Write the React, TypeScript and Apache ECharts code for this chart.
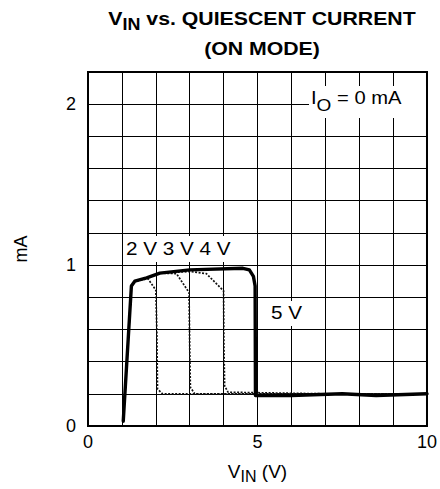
import React, { useEffect, useRef } from 'react';
import * as echarts from 'echarts';

const FONT = "'Liberation Sans', Arial, Helvetica, sans-serif";

const xTickLabels = [0, 5, 10];
const yTickLabels = [0, 1, 2];

// 5 V curve (thick)
const vin5V = [1.04, 1.28, 1.38, 1.73, 2.12, 3.0, 4.57, 4.76, 4.88, 4.93, 4.94, 6.0, 7.5, 8.5, 10.0];
const iq5V = [0.03, 0.87, 0.9, 0.92, 0.95, 0.97, 0.98, 0.97, 0.93, 0.87, 0.19, 0.19, 0.2, 0.19, 0.2];

// 2 V curve (dotted)
const vin2V = [1.04, 1.28, 1.38, 1.77, 2.0, 2.03, 2.05, 2.2, 4.0, 7.0, 10.0];
const iq2V = [0.03, 0.87, 0.9, 0.915, 0.845, 0.6, 0.23, 0.2, 0.2, 0.2, 0.2];

// 3 V curve (dotted)
const vin3V = [1.04, 1.28, 1.38, 1.73, 2.12, 2.61, 2.98, 3.0, 3.02, 3.15, 6.0, 10.0];
const iq3V = [0.03, 0.87, 0.9, 0.92, 0.95, 0.947, 0.83, 0.5, 0.24, 0.2, 0.2, 0.2];

// 4 V curve (dotted)
const vin4V = [1.04, 1.28, 1.38, 1.73, 2.12, 3.0, 3.49, 4.0, 4.01, 4.03, 4.13, 7.0, 10.0];
const iq4V = [0.03, 0.87, 0.9, 0.92, 0.95, 0.96, 0.947, 0.84, 0.5, 0.25, 0.21, 0.2, 0.2];

const pair = (xs: number[], ys: number[]) => xs.map((x, i) => [x, ys[i]]);

export default function App() {
  const ref = useRef<HTMLDivElement>(null);
  useEffect(() => {
    const chart = echarts.init(ref.current!, null, { renderer: 'svg' });
    const dotted = { color: '#111', width: 1.7, type: [2, 1.5] as any };
    const isTick = (v: number, list: number[]) => list.some((t) => Math.abs(t - v) < 1e-6);
    chart.setOption({
      animation: false,
      backgroundColor: '#fff',
      grid: {
        left: 88, top: 72, width: 340, height: 355,
        show: true, borderColor: '#000', borderWidth: 2, backgroundColor: 'transparent',
      },
      xAxis: {
        type: 'value', min: 0, max: 10, interval: 1,
        axisLine: { show: false }, axisTick: { show: false },
        splitLine: { show: true, lineStyle: { color: '#000', width: 1 } },
        axisLabel: {
          formatter: (v: number) => (isTick(v, xTickLabels) ? String(Math.round(v)) : ''),
          color: '#000', fontSize: 18, fontFamily: FONT, margin: 7,
        },
        name: '{v|V}{s|IN}{v| (V)}',
        nameLocation: 'middle', nameGap: 34,
        nameTextStyle: {
          rich: {
            v: { fontSize: 19, fontFamily: FONT, color: '#000', lineHeight: 22 },
            s: { fontSize: 16, fontFamily: FONT, color: '#000', lineHeight: 10, verticalAlign: 'top', padding: [8, 0, 0, 0] },
          },
        },
      },
      yAxis: {
        type: 'value', min: 0, max: 2.2, interval: 0.2,
        axisLine: { show: false }, axisTick: { show: false },
        splitLine: { show: true, lineStyle: { color: '#000', width: 1 } },
        axisLabel: {
          formatter: (v: number) => (isTick(v, yTickLabels) ? String(Math.round(v)) : ''),
          color: '#000', fontSize: 18, fontFamily: FONT, margin: 12,
        },
        name: 'mA', nameLocation: 'middle', nameGap: 58, nameRotate: 90,
        nameTextStyle: { fontSize: 18, fontFamily: FONT, color: '#000' },
      },
      series: [
        { name: '2 V', type: 'line', data: pair(vin2V, iq2V), symbol: 'none', lineStyle: dotted, z: 3 },
        { name: '3 V', type: 'line', data: pair(vin3V, iq3V), symbol: 'none', lineStyle: dotted, z: 3 },
        { name: '4 V', type: 'line', data: pair(vin4V, iq4V), symbol: 'none', lineStyle: dotted, z: 3 },
        {
          name: '5 V', type: 'line', data: pair(vin5V, iq5V), symbol: 'none', z: 5,
          lineStyle: { color: '#000', width: 3.4, cap: 'round', join: 'round' },
        },
      ],
      graphic: [
        {
          type: 'text', x: 262, y: 3, scaleX: 1.12, z: 101,
          style: {
            text: '{v|V}{s|IN}{v| vs. QUIESCENT CURRENT}\n{v|(ON MODE)}',
            align: 'center', verticalAlign: 'top', fill: '#000',
            rich: {
              v: { fontSize: 19, fontWeight: 'bold', fontFamily: FONT, lineHeight: 30, fill: '#000' },
              s: { fontSize: 16, fontWeight: 'bold', fontFamily: FONT, lineHeight: 10, verticalAlign: 'top', padding: [14, 0, 0, 0], fill: '#000' },
            },
          },
        },
        { type: 'rect', shape: { x: 123, y: 236, width: 121, height: 26 }, style: { fill: '#fff' }, z: 100 },
        {
          type: 'text', x: 126, y: 249, scaleX: 1.15, z: 101,
          style: { text: '2 V 3 V 4 V', fontSize: 18, fontFamily: FONT, fill: '#000', verticalAlign: 'middle' },
        },
        { type: 'rect', shape: { x: 268, y: 301, width: 38, height: 25 }, style: { fill: '#fff' }, z: 100 },
        {
          type: 'text', x: 271, y: 313, scaleX: 1.15, z: 101,
          style: { text: '5 V', fontSize: 18, fontFamily: FONT, fill: '#000', verticalAlign: 'middle' },
        },
        { type: 'rect', shape: { x: 309, y: 86, width: 117, height: 32 }, style: { fill: '#fff' }, z: 100 },
        {
          type: 'text', x: 311, y: 86, scaleX: 1.12, z: 101,
          style: {
            text: '{n|I}{s|O}{n| = 0 mA}', verticalAlign: 'top', fill: '#000',
            rich: {
              n: { fontSize: 18, fontFamily: FONT, lineHeight: 24, fill: '#000' },
              s: { fontSize: 17, fontFamily: FONT, lineHeight: 10, verticalAlign: 'top', padding: [11, 0, 0, 0], fill: '#000' },
            },
          },
        },
      ],
    });
    return () => chart.dispose();
  }, []);
  return <div ref={ref} style={{ position: 'fixed', left: 0, top: 0, width: 440, height: 489 }} />;
}
